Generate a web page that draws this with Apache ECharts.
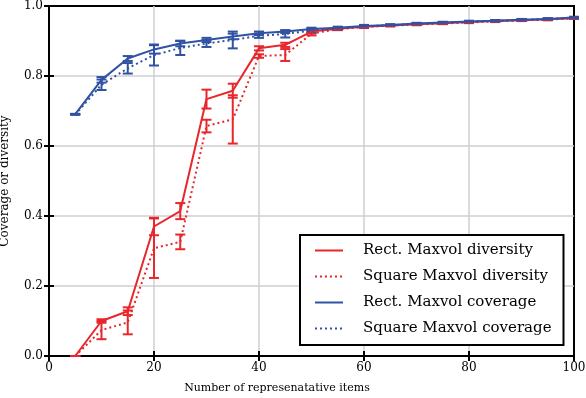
<!DOCTYPE html>
<html>
<head>
<meta charset="utf-8">
<script src="https://cdn.jsdelivr.net/npm/echarts@6/dist/echarts.min.js"></script>
<style>
  html, body { margin: 0; padding: 0; background: #fff; }
  #chart { width: 586px; height: 398px; }
</style>
</head>
<body>
<div id="chart"></div>
<script>
const xVals = [5, 10, 15, 20, 25, 30, 35, 40, 45, 50, 55, 60, 65, 70, 75, 80, 85, 90, 95, 100]

const rectDiv = [0.000, 0.100, 0.128, 0.370, 0.414, 0.734, 0.758, 0.879, 0.889, 0.927, 0.935, 0.941, 0.944, 0.948, 0.951, 0.954, 0.957, 0.959, 0.962, 0.965]
const rectDivErr = [0, 0.005, 0.011, 0.025, 0.023, 0.027, 0.020, 0.006, 0.006, 0.005, 0.003, 0.003, 0.002, 0.002, 0.002, 0.002, 0.002, 0.002, 0.002, 0.002]

const sqDiv = [0.000, 0.074, 0.096, 0.308, 0.326, 0.657, 0.676, 0.857, 0.860, 0.921, 0.934, 0.940, 0.944, 0.947, 0.950, 0.953, 0.956, 0.959, 0.961, 0.965]
const sqDivErr = [0, 0.026, 0.034, 0.085, 0.021, 0.018, 0.069, 0.005, 0.017, 0.005, 0.003, 0.003, 0.002, 0.002, 0.002, 0.002, 0.002, 0.002, 0.002, 0.002]

const rectCov = [0.691, 0.789, 0.850, 0.876, 0.893, 0.903, 0.913, 0.922, 0.927, 0.934, 0.938, 0.943, 0.946, 0.950, 0.953, 0.956, 0.958, 0.961, 0.963, 0.967]
const rectCovErr = [0.001, 0.008, 0.007, 0.012, 0.008, 0.006, 0.008, 0.005, 0.004, 0.004, 0.003, 0.003, 0.002, 0.002, 0.002, 0.002, 0.002, 0.002, 0.002, 0.002]

const sqCov = [0.690, 0.775, 0.822, 0.860, 0.880, 0.893, 0.903, 0.915, 0.920, 0.930, 0.936, 0.942, 0.945, 0.949, 0.952, 0.955, 0.958, 0.960, 0.963, 0.967]
const sqCovErr = [0.001, 0.015, 0.015, 0.030, 0.020, 0.010, 0.024, 0.006, 0.010, 0.006, 0.003, 0.003, 0.002, 0.002, 0.002, 0.002, 0.002, 0.002, 0.002, 0.002]

const RED = '#e8262b'
const BLUE = '#3052a3'
const FONT = 'DejaVu Serif'

function lineSeries(name, vals, color, dotted) {
  return {
    name: name,
    type: 'line',
    data: xVals.map((x, i) => [x, vals[i]]),
    symbol: 'none',
    lineStyle: { color: color, width: 2, type: dotted ? [2, 3] : 'solid' },
    itemStyle: { color: color },
    z: 3
  }
}

function errSeries(vals, errs, color) {
  return {
    type: 'custom',
    silent: true,
    data: xVals.map((x, i) => [x, vals[i] - errs[i], vals[i] + errs[i]]),
    encode: { x: 0, y: [1, 2] },
    renderItem: function (params, api) {
      const lo = api.coord([api.value(0), api.value(1)])
      const hi = api.coord([api.value(0), api.value(2)])
      const w = 5
      const st = { stroke: color, lineWidth: 2 }
      return {
        type: 'group',
        children: [
          { type: 'line', shape: { x1: lo[0], y1: lo[1], x2: hi[0], y2: hi[1] }, style: st },
          { type: 'line', shape: { x1: lo[0] - w, y1: lo[1], x2: lo[0] + w, y2: lo[1] }, style: st },
          { type: 'line', shape: { x1: hi[0] - w, y1: hi[1], x2: hi[0] + w, y2: hi[1] }, style: st }
        ]
      }
    },
    z: 3
  }
}

const names = ['Rect. Maxvol diversity', 'Square Maxvol diversity', 'Rect. Maxvol coverage', 'Square Maxvol coverage']

const tickLabel = { color: '#000', fontFamily: FONT, fontSize: 12 }
const gridLine = { showMinLine: false, showMaxLine: false, lineStyle: { color: '#cfcfcf', width: 1.5 } }

const chart = echarts.init(document.getElementById('chart'), null, { renderer: 'canvas' })
chart.setOption({
  animation: false,
  backgroundColor: '#fff',
  grid: {
    left: 49, right: 12, top: 6, bottom: 42,
    outerBoundsMode: 'none', containLabel: false,
    show: true, borderColor: '#000', borderWidth: 2
  },
  legend: {
    data: names,
    orient: 'vertical',
    left: 300,
    top: 235,
    backgroundColor: '#fff',
    borderColor: '#000',
    borderWidth: 2,
    borderRadius: 0,
    padding: [8, 12, 9, 14],
    itemWidth: 28,
    itemHeight: 16,
    itemGap: 11,
    itemStyle: { opacity: 0 },
    textStyle: { color: '#000', fontFamily: FONT, fontSize: 15, padding: [0, 0, 0, 15] }
  },
  xAxis: [
    {
      type: 'value', min: 0, max: 100, interval: 20,
      name: 'Number of represenatative items',
      nameLocation: 'middle', nameGap: 27,
      nameTextStyle: { color: '#000', fontFamily: FONT, fontSize: 11, padding: [0, 69, 0, 0] },
      axisLine: { lineStyle: { color: '#000', width: 2 } },
      axisTick: { inside: true, length: 5, lineStyle: { color: '#000', width: 2 } },
      axisLabel: { ...tickLabel, margin: 6 },
      splitLine: gridLine
    },
    {
      type: 'value', min: 0, max: 100, interval: 20, position: 'top',
      axisLine: { lineStyle: { color: '#000', width: 2 } },
      axisTick: { inside: true, length: 5, lineStyle: { color: '#000', width: 2 } },
      axisLabel: { show: false },
      splitLine: { show: false }
    }
  ],
  yAxis: [
    {
      type: 'value', min: 0, max: 1, interval: 0.2,
      name: 'Coverage or diversity',
      nameLocation: 'middle', nameGap: 38,
      nameTextStyle: { color: '#000', fontFamily: FONT, fontSize: 12 },
      axisLine: { show: true, lineStyle: { color: '#000', width: 2 } },
      axisTick: { show: true, inside: true, length: 5, lineStyle: { color: '#000', width: 2 } },
      axisLabel: { ...tickLabel, margin: 6, formatter: v => v.toFixed(1) },
      splitLine: gridLine
    },
    {
      type: 'value', min: 0, max: 1, interval: 0.2, position: 'right',
      axisLine: { show: true, lineStyle: { color: '#000', width: 2 } },
      axisTick: { show: true, inside: true, length: 5, lineStyle: { color: '#000', width: 2 } },
      axisLabel: { show: false },
      splitLine: { show: false }
    }
  ],
  series: [
    lineSeries(names[0], rectDiv, RED, false),
    errSeries(rectDiv, rectDivErr, RED),
    lineSeries(names[1], sqDiv, RED, true),
    errSeries(sqDiv, sqDivErr, RED),
    lineSeries(names[2], rectCov, BLUE, false),
    errSeries(rectCov, rectCovErr, BLUE),
    lineSeries(names[3], sqCov, BLUE, true),
    errSeries(sqCov, sqCovErr, BLUE)
  ]
})
window.addEventListener('resize', chart.resize)
</script>
</body>
</html>
